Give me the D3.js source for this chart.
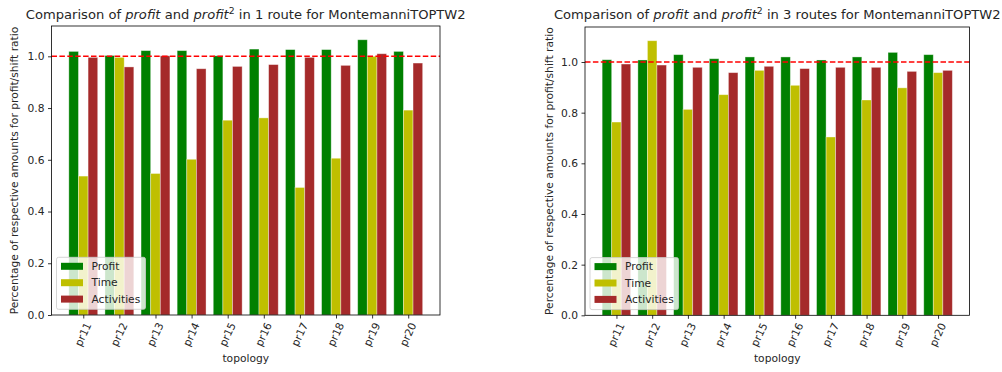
<!DOCTYPE html>
<html>
<head>
<meta charset="utf-8">
<script src="https://cdn.jsdelivr.net/npm/d3@7"></script>
<style>
  html, body { margin: 0; padding: 0; background: #fff; }
  svg { display: block; }
  text { font-family: "DejaVu Sans", sans-serif; fill: #262626; }
</style>
</head>
<body>
<svg id="chart" width="1002" height="372"></svg>
<script>
// Topology instances on the x axis
const topologies = ["pr11", "pr12", "pr13", "pr14", "pr15", "pr16", "pr17", "pr18", "pr19", "pr20"];
const seriesNames = ["Profit", "Time", "Activities"];
const seriesColors = ["#008000", "#bfbf00", "#a52a2a"];
const yTicks = [0.0, 0.2, 0.4, 0.6, 0.8, 1.0];

// Ratios for one route
const profit1 = [1.019, 1.003, 1.022, 1.022, 1.002, 1.028, 1.026, 1.026, 1.064, 1.019];
const time1 = [0.537, 0.996, 0.547, 0.602, 0.753, 0.762, 0.493, 0.606, 1.000, 0.792];
const activities1 = [0.996, 0.959, 1.002, 0.952, 0.961, 0.968, 0.996, 0.965, 1.010, 0.974];

// Ratios for three routes
const profit3 = [1.009, 1.008, 1.029, 1.013, 1.020, 1.020, 1.008, 1.020, 1.038, 1.029];
const time3 = [0.763, 1.084, 0.813, 0.871, 0.967, 0.908, 0.704, 0.850, 0.898, 0.958];
const activities3 = [0.992, 0.988, 0.979, 0.958, 0.983, 0.974, 0.979, 0.979, 0.963, 0.967];

const FS = 10.7;     // tick / label / legend font size
const TFS = 13.1;    // title font size

const svg = d3.select("#chart");

function drawPanel(opts) {
  const { left, right, top, bottom, routes, series, yLabelX } = opts;
  const g = svg.append("g");
  const n = topologies.length;
  const barW = 0.8 / 3;

  // x scale in category index units with matplotlib-like margins
  const x = d3.scaleLinear().domain([-0.88, n - 1 + 0.88]).range([left, right]);
  const ymax = d3.max(series.flat()) * 1.05;
  const y = d3.scaleLinear().domain([0, ymax]).range([bottom, top]);

  // bars
  series.forEach((vals, si) => {
    g.append("g").selectAll("rect")
      .data(vals)
      .join("rect")
      .attr("x", (d, i) => x(i + (si - 1) * barW - barW / 2))
      .attr("width", x(barW) - x(0))
      .attr("y", d => y(d))
      .attr("height", d => y(0) - y(d))
      .attr("fill", seriesColors[si])
      .attr("stroke", "#ffffff")
      .attr("stroke-opacity", 0.45)
      .attr("stroke-width", 0.8);
  });

  // reference line at ratio 1.0
  g.append("line")
    .attr("x1", left).attr("x2", right)
    .attr("y1", y(1)).attr("y2", y(1))
    .attr("stroke", "#ff0000")
    .attr("stroke-width", 1.5)
    .attr("stroke-dasharray", "5.5,2.4");

  // frame
  g.append("rect")
    .attr("x", left).attr("y", top)
    .attr("width", right - left).attr("height", bottom - top)
    .attr("fill", "none").attr("stroke", "#000").attr("stroke-width", 0.8);

  // y axis
  const yAxis = d3.axisLeft(y).tickValues(yTicks).tickFormat(d3.format(".1f"))
    .tickSize(3.5).tickPadding(3.5);
  const ya = g.append("g").attr("transform", `translate(${left},0)`).call(yAxis);
  ya.select(".domain").remove();
  ya.selectAll("line").attr("stroke", "#000").attr("stroke-width", 0.8);
  ya.selectAll("text").attr("font-size", FS).attr("font-family", "DejaVu Sans").attr("fill", "#262626");

  // x axis ticks
  const xa = g.append("g").attr("transform", `translate(0,${bottom})`);
  const xAxis = d3.axisBottom(x).tickValues(d3.range(n)).tickFormat("").tickSize(3.5);
  xa.call(xAxis);
  xa.select(".domain").remove();
  xa.selectAll("line").attr("stroke", "#000").attr("stroke-width", 0.8);

  // rotated tick labels
  const ang = 65 * Math.PI / 180;
  topologies.forEach((t, i) => {
    const txt = g.append("text")
      .attr("font-size", FS)
      .attr("text-anchor", "middle")
      .attr("dominant-baseline", "central")
      .text(t);
    const L = txt.node().getComputedTextLength();
    const h = L * Math.sin(ang) + FS * Math.cos(ang);
    txt.attr("transform", `translate(${x(i)},${bottom + 6 + h / 2}) rotate(-65)`);
  });

  // x axis title
  g.append("text")
    .attr("x", (left + right) / 2).attr("y", 362)
    .attr("text-anchor", "middle").attr("font-size", FS)
    .text("topology");

  // y axis title
  g.append("text")
    .attr("transform", `translate(${yLabelX},${(top + bottom) / 2}) rotate(-90)`)
    .attr("text-anchor", "middle").attr("dominant-baseline", "central")
    .attr("font-size", FS)
    .text("Percentage of respective amounts for profit/shift ratio");

  // title with italic profit and superscript
  const title = g.append("text")
    .attr("x", (left + right) / 2).attr("y", 19)
    .attr("text-anchor", "middle").attr("font-size", TFS);
  title.append("tspan").text("Comparison of ");
  title.append("tspan").attr("font-style", "italic").text("profit");
  title.append("tspan").text(" and ");
  title.append("tspan").attr("font-style", "italic").text("profit");
  title.append("tspan").attr("font-size", 9.3).attr("dy", -5.5).text("2");
  title.append("tspan").attr("dy", 5.5).text(` in ${routes} for MontemanniTOPTW2`);

  // legend
  const lx = left + 5, lw = opts.legendW, lh = 52, ly = bottom - 5.7 - lh;
  const lg = g.append("g");
  lg.append("rect")
    .attr("x", lx).attr("y", ly).attr("width", lw).attr("height", lh)
    .attr("rx", 2).attr("fill", "#fff").attr("fill-opacity", 0.8)
    .attr("stroke", "#cccccc").attr("stroke-width", 0.8);
  seriesNames.forEach((name, si) => {
    const cy = ly + 9 + si * 16.4;
    lg.append("rect")
      .attr("x", lx + 4.5).attr("y", cy - 3.5)
      .attr("width", 22).attr("height", 7)
      .attr("fill", seriesColors[si]);
    lg.append("text")
      .attr("x", lx + 35).attr("y", cy)
      .attr("dominant-baseline", "central")
      .attr("font-size", FS)
      .text(name);
  });
}

drawPanel({
  left: 51.5, right: 440, top: 26, bottom: 315,
  routes: "1 route",
  series: [profit1, time1, activities1],
  yLabelX: 14.5,
  legendW: 89
});

drawPanel({
  left: 585, right: 969.5, top: 27, bottom: 315.3,
  routes: "3 routes",
  series: [profit3, time3, activities3],
  yLabelX: 549.5,
  legendW: 88.5
});
</script>
</body>
</html>
